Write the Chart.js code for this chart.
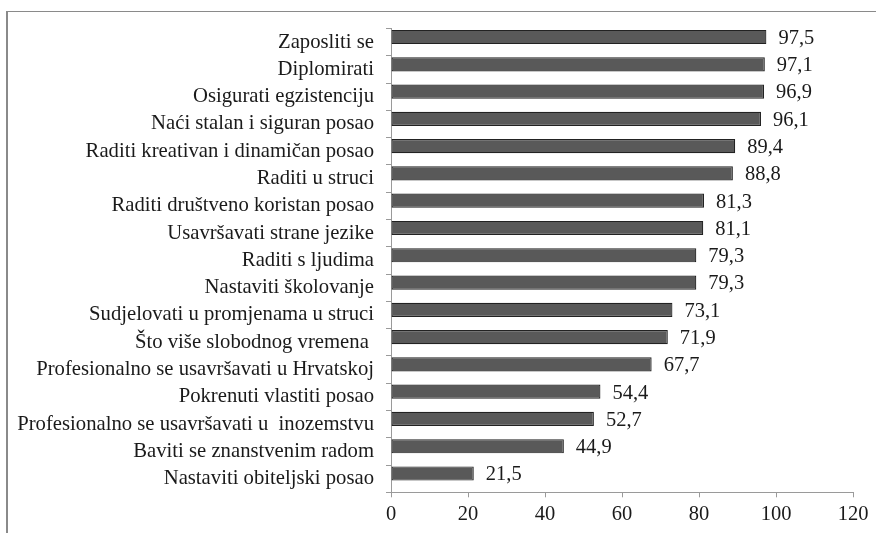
<!DOCTYPE html>
<html>
<head>
<meta charset="utf-8">
<script src="https://cdn.jsdelivr.net/npm/chart.js@4/dist/chart.umd.min.js"></script>
<style>
  html, body { margin: 0; padding: 0; background: #fff; }
  #wrap { position: relative; width: 876px; height: 533px; overflow: hidden; }
  #frame { position: absolute; left: 6px; top: 11px; width: 900px; height: 560px;
           border-left: 2px solid #8a8a8a; border-top: 1.5px solid #8a8a8a; }
  canvas { position: absolute; left: 0; top: 0; }
</style>
</head>
<body>
<div id="wrap">
  <div id="frame"></div>
  <canvas id="c" width="876" height="533"></canvas>
</div>
<script>
const categories = [
  "Zaposliti se",
  "Diplomirati",
  "Osigurati egzistenciju",
  "Naći stalan i siguran posao",
  "Raditi kreativan i dinamičan posao",
  "Raditi u struci",
  "Raditi društveno koristan posao",
  "Usavršavati strane jezike",
  "Raditi s ljudima",
  "Nastaviti školovanje",
  "Sudjelovati u promjenama u struci",
  "Što više slobodnog vremena ",
  "Profesionalno se usavršavati u Hrvatskoj",
  "Pokrenuti vlastiti posao",
  "Profesionalno se usavršavati u  inozemstvu",
  "Baviti se znanstvenim radom",
  "Nastaviti obiteljski posao"
];
const values = [97.5, 97.1, 96.9, 96.1, 89.4, 88.8, 81.3, 81.1, 79.3, 79.3, 73.1, 71.9, 67.7, 54.4, 52.7, 44.9, 21.5];
const xTicks = [0, 20, 40, 60, 80, 100, 120];

const FONT = "'Liberation Serif', 'Times New Roman', serif";
const TEXT = "#1a1a1a";
const AXIS = "#9a9a9a";

const valueLabels = {
  id: 'valueLabels',
  afterDatasetsDraw(chart) {
    const ctx = chart.ctx;
    const meta = chart.getDatasetMeta(0);
    ctx.save();
    ctx.font = "20.5px " + FONT;
    ctx.fillStyle = TEXT;
    ctx.textAlign = 'left';
    ctx.textBaseline = 'middle';
    meta.data.forEach((bar, i) => {
      const v = values[i];
      ctx.fillText(v.toFixed(1).replace('.', ','), bar.x + 12, bar.y + 1.5);
    });
    ctx.restore();
  }
};

new Chart(document.getElementById('c'), {
  type: 'bar',
  data: {
    labels: categories,
    datasets: [
      {
        data: values,
        backgroundColor: '#595959',
        borderColor: '#222222',
        borderWidth: 1.2,
        borderSkipped: false,
        categoryPercentage: 0.754,
        barPercentage: 1.38
      },
      {
        data: [],
        categoryPercentage: 0.754,
        barPercentage: 1.38
      }
    ]
  },
  options: {
    indexAxis: 'y',
    responsive: false,
    animation: false,
    events: [],
    layout: { padding: { top: 28.5, right: 23, left: 0, bottom: 0 } },
    plugins: {
      legend: { display: false },
      tooltip: { enabled: false },
      title: { display: false }
    },
    scales: {
      x: {
        type: 'linear',
        min: 0,
        max: 120,
        afterBuildTicks(scale) { scale.ticks = xTicks.map(v => ({ value: v })); },
        afterFit(scale) { scale.height = 40.7; },
        grid: { drawOnChartArea: false, drawTicks: true, tickLength: 5, color: AXIS, lineWidth: 1 },
        border: { display: true, color: AXIS, width: 1 },
        ticks: { color: TEXT, font: { family: FONT, size: 20.5 }, padding: 5, maxRotation: 0 }
      },
      y: {
        type: 'category',
        afterFit(scale) { scale.width = 391; },
        grid: { drawOnChartArea: false, drawTicks: true, tickLength: 5, color: AXIS, lineWidth: 1, offset: true },
        border: { display: true, color: AXIS, width: 1 },
        ticks: { color: TEXT, font: { family: FONT, size: 20.7 }, padding: 12, autoSkip: false }
      }
    }
  },
  plugins: [valueLabels]
});
</script>
</body>
</html>
